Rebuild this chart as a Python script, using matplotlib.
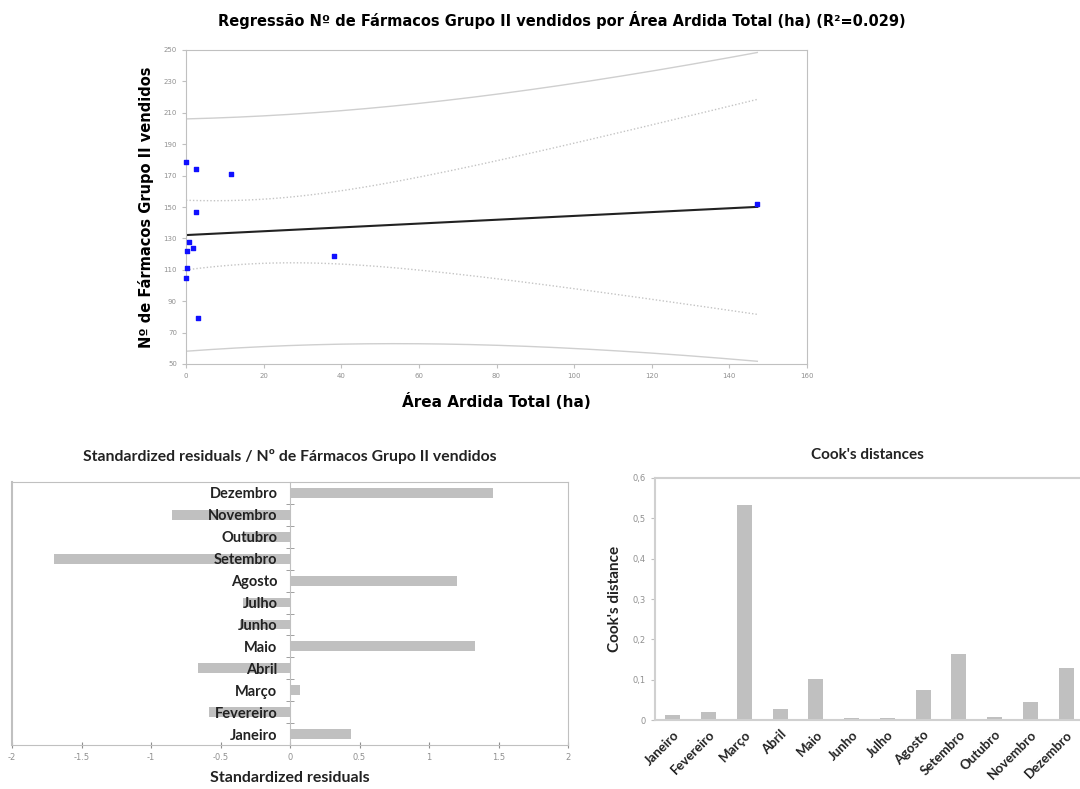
import numpy as np
import matplotlib
matplotlib.use("Agg")
import matplotlib.pyplot as plt

# data
area = np.array([0.0, 2.5, 11.5, 2.6, 0.9, 0.2, 1.9, 0.2, 0.0, 3.0, 38.1, 147.2])
farmacos = np.array([178.5, 174.3, 171.3, 146.5, 127.4, 122.1, 124.0, 111.3, 105.0, 79.3, 119.1, 152.0])

months = ["Janeiro", "Fevereiro", "Março", "Abril", "Maio", "Junho",
          "Julho", "Agosto", "Setembro", "Outubro", "Novembro", "Dezembro"]
std_resid = [0.44, -0.58, 0.07, -0.66, 1.33, -0.36,
             -0.34, 1.20, -1.70, -0.34, -0.85, 1.46]
cooks = [0.012, 0.021, 0.532, 0.028, 0.101, 0.006,
         0.006, 0.074, 0.163, 0.007, 0.045, 0.129]

t_crit = 2.228  # t(0.975, df=10)

grey_frame = "#c0c0c0"
bar_grey = "#c0c0c0"
tick_grey = "#909090"
dark = "#222222"

fig = plt.figure(figsize=(10.8, 7.89), dpi=100)

# ---------------- regression ----------------
n = len(area)
xm, ym = area.mean(), farmacos.mean()
sxx = ((area - xm) ** 2).sum()
slope = ((area - xm) * (farmacos - ym)).sum() / sxx
icpt = ym - slope * xm
resid = farmacos - (icpt + slope * area)
s = np.sqrt((resid ** 2).sum() / (n - 2))

xg = np.linspace(0, area.max(), 200)
yg = icpt + slope * xg
se_mean = s * np.sqrt(1 / n + (xg - xm) ** 2 / sxx)
se_pred = s * np.sqrt(1 + 1 / n + (xg - xm) ** 2 / sxx)

ax = fig.add_axes([186 / 1080, 425 / 789, 621 / 1080, 314 / 789])
ax.plot(xg, yg + t_crit * se_pred, color="#cfcfcf", lw=1)
ax.plot(xg, yg - t_crit * se_pred, color="#cfcfcf", lw=1)
ax.plot(xg, yg + t_crit * se_mean, color="#c4c4c4", lw=1, ls=(0, (1, 1.5)))
ax.plot(xg, yg - t_crit * se_mean, color="#c4c4c4", lw=1, ls=(0, (1, 1.5)))
ax.plot(xg, yg, color="#222222", lw=1.5)
ax.scatter(area, farmacos, s=12, color="#1010ff", marker="s", zorder=5, clip_on=False)
ax.set_xlim(0, 160)
ax.set_ylim(50, 250)
ax.set_xticks(np.arange(0, 161, 20))
ax.set_yticks(np.arange(50, 251, 20))
for sp in ax.spines.values():
    sp.set_color(grey_frame)
ax.tick_params(labelsize=5, colors=grey_frame, labelcolor=tick_grey, length=3)
ax.set_xlabel("Área Ardida Total (ha)", fontsize=11, fontweight="bold", labelpad=10)
ax.set_ylabel("Nº de Fármacos Grupo II vendidos", fontsize=10.5, fontweight="bold", labelpad=7)
fig.text(562 / 1080, 1 - 20 / 789,
         "Regressão Nº de Fármacos Grupo II vendidos por Área Ardida Total (ha) (R²=0.029)",
         ha="center", va="center", fontsize=10.5, fontweight="bold")

# ---------------- standardized residuals ----------------
ax2 = fig.add_axes([12 / 1080, 44 / 789, 556 / 1080, 263 / 789])
ax2.spines["left"].set_position(("data", 0))  # before tick labels: this resets ticks
pos = np.arange(len(months))
ax2.barh(pos, std_resid, height=0.45, color=bar_grey)
ax2.set_xlim(-2, 2)
ax2.set_ylim(-0.5, len(months) - 0.5)
ax2.set_xticks(np.arange(-2, 2.01, 0.5))
ax2.set_xticklabels(["-2", "-1.5", "-1", "-0.5", "0", "0.5", "1", "1.5", "2"])
ax2.set_yticks(pos)
ax2.set_yticklabels(months, family="Lato", fontsize=10.5, color=dark, fontweight="bold")
ax2.set_yticks(np.arange(-0.5, len(months), 1), minor=True)
for sp in ax2.spines.values():
    sp.set_color(grey_frame)
ax2.axvline(-2, color=grey_frame, lw=1.5, clip_on=False)
ax2.tick_params(axis="y", which="major", length=0, pad=9)
ax2.tick_params(axis="y", which="minor", length=6, direction="inout", color=tick_grey)
ax2.tick_params(axis="x", labelsize=6, colors=tick_grey, length=4, direction="inout")
ax2.set_xlabel("Standardized residuals", family="Lato", fontsize=11.5, fontweight="bold",
               color=dark, labelpad=7)
ax2.set_title("Standardized residuals / Nº de Fármacos Grupo II vendidos",
              family="Lato", fontsize=11.3, fontweight="bold", color=dark, pad=15)

# ---------------- Cook's distances ----------------
ax3 = fig.add_axes([655 / 1080, 69 / 789, 429 / 1080, 242 / 789])
ax3.bar(pos, cooks, width=0.42, color=bar_grey)
ax3.set_xlim(-0.5, len(months) - 0.5)
ax3.set_ylim(0, 0.6)
ax3.set_yticks(np.arange(0, 0.61, 0.1))
ax3.set_yticklabels(["0", "0,1", "0,2", "0,3", "0,4", "0,5", "0,6"])
ax3.set_xticks(pos)
ax3.set_xticklabels(months, rotation=45, ha="right", rotation_mode="anchor",
                    family="Lato", fontsize=9.5, fontweight="bold", color=dark)
for sp in ax3.spines.values():
    sp.set_color("#d0d0d0")
    sp.set_linewidth(1.5)
ax3.tick_params(axis="x", length=0, pad=6)
ax3.tick_params(axis="y", labelsize=6, colors=grey_frame, labelcolor=tick_grey, length=3)
ax3.set_ylabel("Cook's distance", family="Lato", fontsize=11, fontweight="bold",
               color=dark, labelpad=8)
fig.text(867 / 1080, 1 - 455 / 789, "Cook's distances", ha="center", va="center",
         family="Lato", fontsize=11, fontweight="bold", color=dark)

fig.savefig("out.png", dpi=100)
